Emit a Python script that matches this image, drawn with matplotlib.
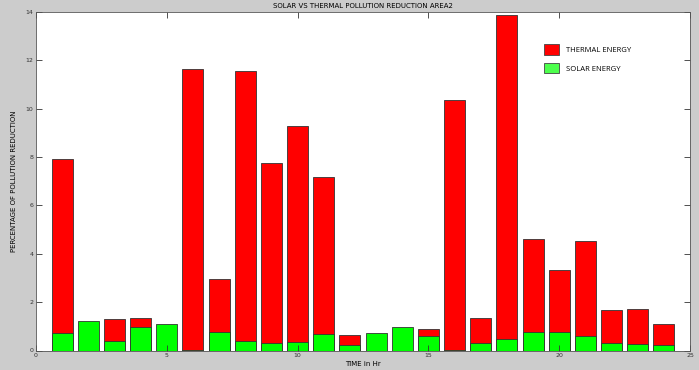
import matplotlib.pyplot as plt
import numpy as np

# hourly values
hours = np.arange(1, 25)
thermal = [7.91, 0.0, 1.30, 1.34, 0.0, 11.65, 2.97, 11.57, 7.75, 9.30, 7.16, 0.65,
           0.0, 0.0, 0.87, 10.37, 1.35, 13.89, 4.61, 3.34, 4.51, 1.68, 1.72, 1.08]
solar = [0.74, 1.20, 0.41, 0.97, 1.09, 0.04, 0.76, 0.41, 0.29, 0.35, 0.68, 0.21,
         0.72, 0.98, 0.62, 0.04, 0.33, 0.48, 0.75, 0.76, 0.59, 0.32, 0.25, 0.21]
x_ticks = [0, 5, 10, 15, 20, 25]
y_ticks = [0, 2, 4, 6, 8, 10, 12, 14]

plt.rcParams['font.family'] = ['DejaVu Sans']

fig = plt.figure(figsize=(6.99, 3.70), dpi=100, facecolor='#cccccc')
ax = fig.add_axes([36 / 699, 19.5 / 370, 654 / 699, 338.5 / 370])
ax.set_facecolor('white')

bar_width = 0.8
ax.bar(hours, thermal, bar_width, color='#ff0000', edgecolor='#333333', linewidth=0.6,
       label='THERMAL ENERGY')
ax.bar(hours, solar, bar_width, color='#00ff00', edgecolor='#333333', linewidth=0.6,
       label='SOLAR ENERGY')

ax.set_xlim(0, 25)
ax.set_ylim(0, 14)
ax.set_xticks(x_ticks)
ax.set_yticks(y_ticks)
ax.tick_params(direction='in', length=4, width=0.6, labelsize=4.5, colors='#333333',
               top=True, right=True, pad=2)
for s in ax.spines.values():
    s.set_color('#555555')
    s.set_linewidth(0.6)

ax.set_title('SOLAR VS THERMAL POLLUTION REDUCTION AREA2', fontsize=5, pad=3)
ax.set_xlabel('TIME in Hr', fontsize=5, labelpad=2)
ax.set_ylabel('PERCENTAGE OF POLLUTION REDUCTION', fontsize=5, labelpad=6)

leg = ax.legend(loc='upper left', bbox_to_anchor=(0.767, 0.925), frameon=False,
                prop={'family': 'Open Sans', 'size': 5.5}, handlelength=1.9,
                handleheight=1.7, labelspacing=1.1, handletextpad=0.9)
for h in leg.legend_handles:
    h.set_edgecolor('#444444')
leg.legend_handles[1].set_facecolor('#4dff4d')

plt.savefig('out.png', dpi=100, facecolor=fig.get_facecolor())
